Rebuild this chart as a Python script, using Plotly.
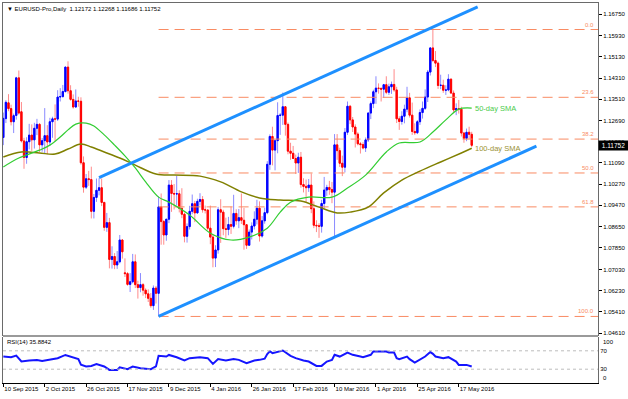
import plotly.graph_objects as go

# ---------------- data (bar index 0 = 10 Sep 2015, daily bars) ----------------
open_ = [1.1205,1.1277,1.1337,1.1315,1.1265,1.1289,1.1432,1.1303,1.1192,1.1129,
         1.1189,1.1214,1.1196,1.1240,1.1255,1.1177,1.1193,1.1212,1.1188,1.1265,
         1.1276,1.1275,1.1359,1.1361,1.1380,1.1473,1.1383,1.1350,1.1321,1.1344,
         1.1343,1.1109,1.1016,1.1048,1.1045,1.0924,1.0977,1.1004,1.1014,1.0958,
         1.0863,1.0881,1.0741,1.0752,1.0720,1.0732,1.0815,1.0690,1.0687,1.0646,
         1.0656,1.0732,1.0645,1.0634,1.0645,1.0624,1.0610,1.0593,1.0565,1.0632,
         1.0612,1.0941,1.0885,1.0834,1.0894,1.1024,1.0992,1.0990,1.0991,1.0935,
         1.0913,1.0829,1.0866,1.0924,1.0953,1.0918,1.0962,1.0969,1.0930,1.0929,
         1.0860,1.0826,1.0746,1.0777,1.0930,1.0921,1.0858,1.0855,1.0874,1.0867,
         1.0916,1.0888,1.0900,1.0890,1.0873,1.0795,1.0845,1.0868,1.0894,1.0936,
         1.0830,1.0888,1.0919,1.1103,1.1209,1.1157,1.1193,1.1289,1.1290,1.1322,
         1.1255,1.1153,1.1145,1.1125,1.1108,1.1130,1.1026,1.1019,1.1014,1.1024,
         1.0934,1.0871,1.0869,1.0867,1.0954,1.1005,1.1015,1.1007,1.0997,1.1177,
         1.1155,1.1107,1.1092,1.1225,1.1324,1.1272,1.1245,1.1218,1.1181,1.1178,
         1.1165,1.1196,1.1298,1.1334,1.1379,1.1393,1.1392,1.1389,1.1406,1.1377,
         1.1398,1.1407,1.1386,1.1276,1.1266,1.1286,1.1313,1.1356,1.1290,1.1228,
         1.1223,1.1265,1.1300,1.1316,1.1359,1.1454,1.1546,1.1498,1.1488,1.1403,
         1.1404,1.1385,1.1386,1.1427,1.1374,1.1310,1.1315,1.1313,1.1222,1.1202,
         1.1225,1.12172]
high = [1.1300,1.1347,1.1370,1.1330,1.1296,1.1436,1.1460,1.1340,1.1204,1.1206,
        1.1257,1.1255,1.1261,1.1276,1.1260,1.1203,1.1317,1.1252,1.1280,1.1284,
        1.1331,1.1385,1.1393,1.1405,1.1474,1.1495,1.1404,1.1369,1.1388,1.1360,
        1.1358,1.1133,1.1066,1.1078,1.1094,1.0990,1.1049,1.1050,1.1049,1.0960,
        1.0918,1.0899,1.0791,1.0765,1.0773,1.0834,1.0818,1.0745,1.0693,1.0689,
        1.0762,1.0760,1.0660,1.0689,1.0651,1.0631,1.0627,1.0613,1.0642,1.0640,
        1.0981,1.0992,1.0891,1.0895,1.1043,1.1043,1.1028,1.1059,1.1004,1.1012,
        1.0919,1.0878,1.0945,1.0988,1.0964,1.0972,1.0993,1.0982,1.0946,1.0932,
        1.0946,1.0836,1.0795,1.0941,1.0970,1.0930,1.0900,1.0903,1.0942,1.0987,
        1.0932,1.0933,1.0992,1.0937,1.0875,1.0855,1.0882,1.0924,1.0968,1.0962,
        1.0906,1.0938,1.1115,1.1217,1.1246,1.1198,1.1339,1.1298,1.1376,1.1324,
        1.1262,1.1185,1.1173,1.1140,1.1147,1.1150,1.1050,1.1045,1.1047,1.1068,
        1.0962,1.0890,1.0879,1.0968,1.1055,1.1025,1.1040,1.1036,1.1218,1.1218,
        1.1166,1.1136,1.1241,1.1342,1.1329,1.1283,1.1255,1.1225,1.1188,1.1187,
        1.1205,1.1301,1.1342,1.1387,1.1438,1.1411,1.1395,1.1409,1.1438,1.1410,
        1.1418,1.1465,1.1398,1.1286,1.1305,1.1330,1.1398,1.1375,1.1338,1.1259,
        1.1271,1.1312,1.1342,1.1388,1.1462,1.1548,1.1616,1.1534,1.1494,1.1444,
        1.1425,1.1404,1.1446,1.1430,1.1384,1.1335,1.1348,1.1322,1.1226,1.1239,
        1.1246,1.12268]
low = [1.1176,1.1260,1.1305,1.1251,1.1222,1.1273,1.1292,1.1186,1.1086,1.1105,
       1.1160,1.1154,1.1163,1.1214,1.1150,1.1151,1.1143,1.1141,1.1174,1.1204,
       1.1191,1.1268,1.1342,1.1356,1.1376,1.1372,1.1345,1.1315,1.1318,1.1322,
       1.1102,1.0995,1.1009,1.1021,1.0897,1.0897,1.0960,1.0985,1.0944,1.0850,
       1.0846,1.0707,1.0706,1.0704,1.0705,1.0726,1.0744,1.0674,1.0641,1.0617,
       1.0650,1.0632,1.0592,1.0616,1.0603,1.0594,1.0579,1.0557,1.0549,1.0573,
       1.0524,1.0797,1.0797,1.0812,1.0879,1.0922,1.0931,1.0946,1.0920,1.0898,
       1.0806,1.0805,1.0855,1.0913,1.0883,1.0916,1.0946,1.0919,1.0916,1.0853,
       1.0799,1.0711,1.0712,1.0763,1.0804,1.0833,1.0823,1.0833,1.0838,1.0859,
       1.0873,1.0860,1.0876,1.0778,1.0781,1.0794,1.0817,1.0855,1.0874,1.0809,
       1.0824,1.0877,1.0913,1.1082,1.1099,1.1080,1.1145,1.1215,1.1253,1.1212,
       1.1141,1.1120,1.1124,1.1066,1.1070,1.1014,1.0996,1.0960,1.0998,1.0917,
       1.0860,1.0845,1.0823,1.0843,1.0935,1.0983,1.0987,1.0955,1.0822,1.1120,
       1.1093,1.1058,1.1072,1.1215,1.1256,1.1226,1.1167,1.1175,1.1144,1.1160,
       1.1150,1.1188,1.1275,1.1317,1.1333,1.1372,1.1342,1.1356,1.1370,1.1367,
       1.1371,1.1379,1.1260,1.1234,1.1254,1.1259,1.1301,1.1281,1.1215,1.1215,
       1.1218,1.1253,1.1277,1.1310,1.1340,1.1441,1.1492,1.1473,1.1390,1.1389,
       1.1375,1.1367,1.1381,1.1373,1.1298,1.1290,1.1296,1.1209,1.1185,1.1191,
       1.1200,1.11686]
close = [1.1278,1.1339,1.1315,1.1265,1.1288,1.1432,1.1298,1.1192,1.1129,1.1189,
         1.1214,1.1196,1.1240,1.1255,1.1177,1.1193,1.1212,1.1188,1.1265,1.1276,
         1.1275,1.1359,1.1361,1.1380,1.1473,1.1383,1.1350,1.1321,1.1344,1.1343,
         1.1109,1.1016,1.1048,1.1045,1.0924,1.0977,1.1004,1.1014,1.0958,1.0863,
         1.0881,1.0741,1.0752,1.0720,1.0732,1.0815,1.0770,1.0687,1.0646,1.0656,
         1.0732,1.0645,1.0634,1.0645,1.0624,1.0610,1.0593,1.0565,1.0632,1.0612,
         1.0941,1.0885,1.0834,1.0894,1.1024,1.0992,1.0990,1.0991,1.0935,1.0913,
         1.0829,1.0866,1.0924,1.0953,1.0918,1.0962,1.0969,1.0930,1.0929,1.0860,
         1.0826,1.0746,1.0777,1.0930,1.0921,1.0858,1.0855,1.0874,1.0867,1.0916,
         1.0888,1.0900,1.0890,1.0873,1.0795,1.0845,1.0868,1.0894,1.0936,1.0830,
         1.0888,1.0919,1.1103,1.1209,1.1157,1.1193,1.1289,1.1290,1.1322,1.1255,
         1.1153,1.1145,1.1125,1.1108,1.1130,1.1026,1.1019,1.1014,1.1024,1.0934,
         1.0871,1.0869,1.0867,1.0954,1.1005,1.1015,1.1007,1.0997,1.1177,1.1155,
         1.1107,1.1092,1.1225,1.1324,1.1272,1.1245,1.1218,1.1181,1.1178,1.1165,
         1.1196,1.1298,1.1334,1.1379,1.1393,1.1392,1.1389,1.1406,1.1377,1.1398,
         1.1407,1.1386,1.1276,1.1266,1.1286,1.1313,1.1356,1.1290,1.1228,1.1223,
         1.1265,1.1300,1.1316,1.1359,1.1454,1.1546,1.1498,1.1488,1.1403,1.1404,
         1.1385,1.1386,1.1427,1.1374,1.1310,1.1315,1.1313,1.1222,1.1202,1.1225,
         1.1217,1.11752]

# moving averages (bar index, price)
sma50_idx = [0, 6, 14, 18, 22, 25, 28, 32, 35, 39, 43, 47, 51, 55, 60, 64, 72,
             80, 88, 95, 102, 107, 111, 118, 127, 133, 140, 148, 153, 161, 166,
             171, 176, 181]
sma50_val = [1.1093, 1.1127, 1.1157, 1.1176, 1.1207, 1.1234, 1.1256, 1.1260,
             1.1249, 1.1215, 1.1176, 1.1135, 1.1089, 1.1036, 1.0978, 1.0959,
             1.0910, 1.0841, 1.0815, 1.0826, 1.0860, 1.0921, 1.0959, 1.0978,
             1.0978, 1.1013, 1.1062, 1.1150, 1.1184, 1.1188, 1.1226, 1.1272,
             1.1313, 1.1317]
sma100_idx = [0, 7, 14, 20, 25, 30, 34, 39, 45, 51, 59, 66, 76, 84, 92, 99,
              107, 115, 122, 129, 134, 141, 147, 154, 161, 169, 177, 181]
sma100_val = [1.1131, 1.1150, 1.1146, 1.1142, 1.1161, 1.1180, 1.1169, 1.1150,
              1.1127, 1.1100, 1.1066, 1.1062, 1.1058, 1.1036, 1.0998, 1.0975,
              1.0967, 1.0963, 1.0940, 1.0918, 1.0921, 1.0940, 1.0994, 1.1043,
              1.1077, 1.1112, 1.1146, 1.1164]

# RSI(14)
rsi_idx = [0, 3, 5, 7, 10, 13, 15, 18, 21, 24, 26, 29, 30, 32, 34, 36, 39, 41,
           44, 45, 48, 50, 53, 57, 59, 60, 63, 64, 67, 70, 72, 76, 79, 81, 83,
           86, 89, 91, 94, 97, 99, 101, 102, 103, 104, 107, 108, 111, 113, 116,
           118, 121, 123, 125, 127, 128, 130, 133, 135, 138, 139, 142, 143, 146,
           148, 149, 151, 152, 153, 156, 157, 159, 161, 163, 165, 166, 167, 170,
           172, 174, 175, 176, 179, 181]
rsi_val = [57.5, 56, 59.5, 47, 49, 50, 48, 50.5, 54, 61, 57.5, 52, 40, 36, 37,
           41, 36, 28.5, 28.5, 34, 30, 35.7, 32, 30, 36, 59, 57.5, 61, 56, 49,
           54, 56, 54, 41.6, 52, 49, 52, 50.3, 43, 49, 50.3, 53, 63, 69, 65, 70,
           70.7, 59, 54, 49, 46.6, 37.2, 37.2, 46.6, 50.3, 61.3, 57.5, 66.3,
           61.3, 57.5, 56.2, 61.3, 68.5, 68.5, 68.5, 66.3, 66.3, 54, 51.9, 57.5,
           51.9, 44.4, 51.9, 57.5, 67.2, 63.5, 57.5, 54, 56.2, 48.8, 46.6, 39.4,
           39.4, 35.88]

# analyst drawings: channel (bar index, price) and Fibonacci retracement
channel_upper_idx = [37, 183.3]
channel_upper_val = [1.1052, 1.1702]
channel_lower_idx = [60, 206]
channel_lower_val = [1.0524, 1.1172]
fib_start_idx = 60
fib_labels = ["0.0", "23.6", "38.2", "50.0", "61.8", "100.0"]
fib_prices = [1.1616, 1.1358, 1.1199, 1.1070, 1.0941, 1.0524]

# axis ticks
price_ticks = [1.16750, 1.15930, 1.15130, 1.14310, 1.13510, 1.12690, 1.11880,
               1.11090, 1.10270, 1.09470, 1.08650, 1.07850, 1.07030, 1.06230,
               1.05410, 1.04610]
date_tick_idx = [0, 16, 32, 48, 64, 80, 96, 112, 128, 144, 160, 176]
date_tick_labels = ["10 Sep 2015", "2 Oct 2015", "26 Oct 2015", "17 Nov 2015",
                    "9 Dec 2015", "4 Jan 2016", "26 Jan 2016", "17 Feb 2016",
                    "10 Mar 2016", "1 Apr 2016", "25 Apr 2016", "17 May 2016"]
rsi_inner_ticks = [30, 70]
rsi_edge_ticks = [100, 0]
header_text = "EURUSD-Pro,Daily  1.12172 1.12268 1.11686 1.11752"
rsi_label = "RSI(14) 35.8842"
last_price = 1.11752

# ---------------- figure ----------------
FONT = "Liberation Sans"
X0, X1 = -0.12, 229.8
Y0, Y1 = 1.04534, 1.17169
bars = list(range(len(close)))
UP, DN = "#0000FF", "#FF0000"
UP_WICK, DN_WICK = "#8A8AFF", "#FF8A8A"

fig = go.Figure()

for lvl in fib_prices:
    fig.add_trace(go.Scatter(x=[fib_start_idx, X1], y=[lvl, lvl], mode="lines",
                             line=dict(color="#F98B63", width=1, dash="10px,6px"),
                             hoverinfo="skip", xaxis="x", yaxis="y"))

fig.add_trace(go.Scatter(x=sma100_idx, y=sma100_val, mode="lines",
                         line=dict(color="#808000", width=1.5, shape="spline"),
                         hoverinfo="skip"))
fig.add_trace(go.Scatter(x=sma50_idx, y=sma50_val, mode="lines",
                         line=dict(color="#32CD32", width=1.2, shape="spline"),
                         hoverinfo="skip"))

# full candles with pale wicks
fig.add_trace(go.Candlestick(
    x=bars, open=open_, high=high, low=low, close=close,
    increasing=dict(line=dict(color=UP_WICK, width=1), fillcolor=UP_WICK),
    decreasing=dict(line=dict(color=DN_WICK, width=1), fillcolor=DN_WICK),
    whiskerwidth=0, hoverinfo="skip", xaxis="x", yaxis="y"))
# solid bodies drawn on top (same open/close, range limited to the body)
body_top = [max(o, c) for o, c in zip(open_, close)]
body_bot = [min(o, c) for o, c in zip(open_, close)]
fig.add_trace(go.Candlestick(
    x=bars, open=open_, high=body_top, low=body_bot, close=close,
    increasing=dict(line=dict(color=UP, width=1), fillcolor=UP),
    decreasing=dict(line=dict(color=DN, width=1), fillcolor=DN),
    whiskerwidth=0, hoverinfo="skip", xaxis="x", yaxis="y"))

for xs, ys in [(channel_upper_idx, channel_upper_val),
               (channel_lower_idx, channel_lower_val)]:
    fig.add_trace(go.Scatter(x=xs, y=ys, mode="lines",
                             line=dict(color="#1E90FF", width=3),
                             hoverinfo="skip"))

fig.add_trace(go.Scatter(x=rsi_idx, y=rsi_val, mode="lines",
                         line=dict(color="#1515FF", width=2),
                         hoverinfo="skip", xaxis="x2", yaxis="y2"))

main_bottom = 48 / 380
rsi_top = 46 / 380

fig.update_layout(
    width=628, height=399,
    margin=dict(l=3, r=30, t=3, b=16, autoexpand=False),
    paper_bgcolor="white", plot_bgcolor="white",
    showlegend=False, hovermode=False,
    font=dict(family=FONT, size=6, color="#000"),
    xaxis=dict(domain=[0, 1], range=[X0, X1], anchor="y",
               showticklabels=False, showgrid=False, zeroline=False,
               showline=True, mirror=True, linecolor="#6a6a6a", linewidth=1,
               ticks="", rangeslider=dict(visible=False)),
    yaxis=dict(domain=[main_bottom, 1], range=[Y0, Y1], side="right",
               tickvals=price_ticks, ticktext=[f"{v:.5f}" for v in price_ticks],
               ticks="outside", ticklen=3, tickcolor="#000",
               showgrid=False, zeroline=False, showline=True, mirror=True,
               linecolor="#6a6a6a", linewidth=1, automargin=False,
               tickfont=dict(family=FONT, size=6, color="#000")),
    xaxis2=dict(domain=[0, 1], range=[X0, X1], anchor="y2",
                tickvals=date_tick_idx, ticktext=date_tick_labels,
                ticks="outside", ticklen=3, tickcolor="#000", tickangle=0,
                ticklabelposition="outside right", automargin=False,
                showgrid=False, zeroline=False, showline=True,
                linecolor="#000", linewidth=1,
                tickfont=dict(family=FONT, size=6, color="#000")),
    yaxis2=dict(domain=[0, rsi_top], range=[0, 100], side="right",
                tickvals=rsi_inner_ticks,
                ticktext=[str(v) for v in rsi_inner_ticks],
                ticks="", showgrid=False, zeroline=False, showline=True,
                mirror=True, linecolor="#6a6a6a", linewidth=1, automargin=False,
                tickfont=dict(family=FONT, size=6, color="#000")),
)

shapes = [
    dict(type="rect", xref="paper", yref="paper", x0=0, x1=1,
         y0=rsi_top, y1=main_bottom, fillcolor="#9a9a9a", line=dict(width=0)),
]
for lv in rsi_inner_ticks:
    shapes.append(dict(type="line", xref="x2", yref="y2", x0=X0, x1=X1, y0=lv,
                       y1=lv, line=dict(color="#bdbdbd", width=1, dash="dot")))
fig.update_layout(shapes=shapes)

ann = []
for lab, lvl in zip(fib_labels, fib_prices):
    ann.append(dict(x=X1 - 0.6, y=lvl, xref="x", yref="y", text=lab,
                    showarrow=False, xanchor="right", yanchor="bottom",
                    font=dict(family=FONT, size=6, color="#F98B63")))
ann.append(dict(x=sma50_idx[-1] + 0.5, y=sma50_val[-1], xref="x", yref="y",
                text="50-day SMA", showarrow=False, xanchor="left",
                yanchor="middle", font=dict(family=FONT, size=7.5, color="#4CCB4C")))
ann.append(dict(x=sma100_idx[-1] + 0.5, y=sma100_val[-1], xref="x", yref="y",
                text="100-day SMA", showarrow=False, xanchor="left",
                yanchor="middle", font=dict(family=FONT, size=7.5, color="#9A9235")))
ann.append(dict(x=0.004, y=(383 - 9) / 380, xref="paper", yref="paper",
                text="\u25BC " + header_text, showarrow=False, xanchor="left",
                yanchor="middle", font=dict(family=FONT, size=6, color="#000")))
ann.append(dict(x=0.004, y=(383 - 342) / 380, xref="paper", yref="paper",
                text=rsi_label, showarrow=False, xanchor="left",
                yanchor="middle", font=dict(family=FONT, size=6, color="#000")))
for v in rsi_edge_ticks:
    ann.append(dict(x=1.0, y=v, xref="paper", yref="y2", text=str(v),
                    showarrow=False, xanchor="left", xshift=3,
                    yanchor="top" if v == 100 else "bottom",
                    font=dict(family=FONT, size=6, color="#000")))
ann.append(dict(x=1.0, y=last_price, xref="paper", yref="y",
                text=f"{last_price:.5f}", showarrow=False, xanchor="left",
                yanchor="middle", bgcolor="#000", borderpad=1, width=27,
                font=dict(family=FONT, size=6.5, color="#fff")))
fig.update_layout(annotations=ann)

fig.write_html("out.html",
               config={"displayModeBar": False, "staticPlot": True},
               post_script="document.body.style.margin='0';"
                           "document.body.style.overflow='hidden';")
